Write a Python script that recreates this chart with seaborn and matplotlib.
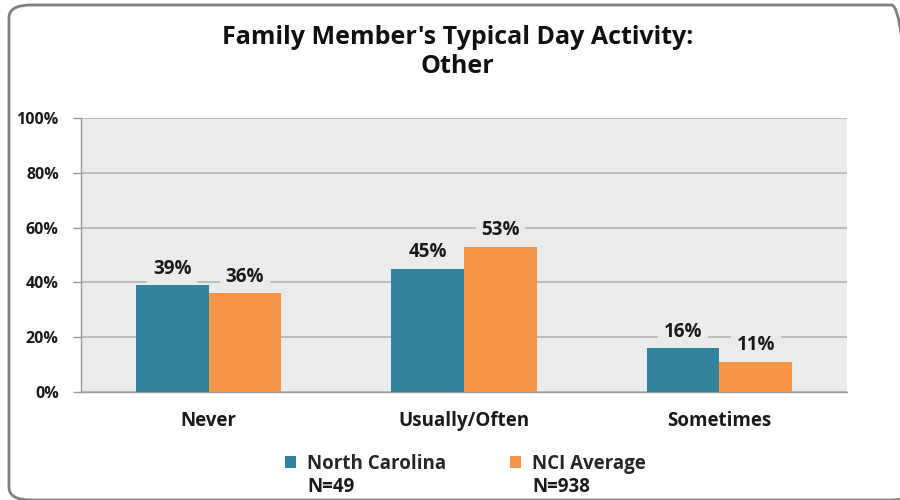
import matplotlib
matplotlib.use("Agg")
import matplotlib.pyplot as plt
from matplotlib.patches import FancyBboxPatch, Patch
from matplotlib.ticker import FixedLocator
import seaborn as sns
import pandas as pd

categories = ["Never", "Usually/Often", "Sometimes"]
series = ["North Carolina", "NCI Average"]
n_labels = ["N=49", "N=938"]
nc_values = [39, 45, 16]
nci_values = [36, 53, 11]
y_ticks = [0, 20, 40, 60, 80, 100]
y_tick_labels = ["0%", "20%", "40%", "60%", "80%", "100%"]
title = "Family Member's Typical Day Activity:\nOther"

colors = ["#31849B", "#F79646"]
plot_bg = "#EBEBEB"
grid_c = "#B4B4B4"

df = pd.DataFrame({
    "Category": categories * 2,
    "Series": [series[0]] * 3 + [series[1]] * 3,
    "Value": nc_values + nci_values,
})

sns.set_theme(style="white")
plt.rcParams["font.family"] = ["Open Sans", "DejaVu Sans"]

fig = plt.figure(figsize=(9, 5), dpi=100)
ax = fig.add_axes([81 / 900, 1 - 392 / 500, (847 - 81) / 900, (392 - 118) / 500])
ax.set_facecolor(plot_bg)

sns.barplot(data=df, x="Category", y="Value", hue="Series", order=categories,
            hue_order=series, palette=colors, width=0.57, ax=ax, legend=False,
            saturation=1, edgecolor="none", zorder=3)

ax.set_ylim(0, 100)
ax.set_xlim(-0.5, 2.5)
ax.set_yticks(y_ticks)
ax.set_yticklabels(y_tick_labels, fontsize=11.5, fontweight="bold", color="#1a1a1a")
ax.yaxis.grid(True, color=grid_c, linewidth=1.2, zorder=0)
ax.set_axisbelow(True)
ax.set_xlabel("")
ax.set_ylabel("")
ax.set_xticks(range(3))
ax.set_xticklabels(categories, fontsize=13.5, fontweight="bold", color="#1a1a1a")
ax.tick_params(axis="x", which="major", length=0, pad=14)
ax.xaxis.set_minor_locator(FixedLocator([-0.5, 0.5, 1.5, 2.5]))
ax.tick_params(axis="x", which="minor", length=6, color="#9a9a9a", width=1, direction="out")
ax.tick_params(axis="y", which="major", length=6, color="#9a9a9a", width=1, direction="out", pad=10, left=True)

for s in ["top", "right"]:
    ax.spines[s].set_visible(False)
ax.spines["left"].set_color("#9a9a9a")
ax.spines["bottom"].set_color("#9a9a9a")
ax.spines["left"].set_linewidth(1)
ax.spines["bottom"].set_linewidth(1)

for container in ax.containers:
    for bar in container:
        h = bar.get_height()
        ax.text(bar.get_x() + bar.get_width() / 2, h + 6, f"{h:.0f}%",
                ha="center", va="center", fontsize=13.5, fontweight="bold",
                color="#1a1a1a", zorder=5,
                bbox=dict(boxstyle="square,pad=0.3", facecolor=plot_bg, edgecolor="none"))

fig.text(0.508, 1 - 52 / 500, title, ha="center", va="center", fontsize=18,
         fontweight="bold", color="#111111", linespacing=1.25)

for i, (c, lab, nl, x0) in enumerate(zip(colors, series, n_labels, [285, 510])):
    h = Patch(facecolor=c, edgecolor="none")
    leg = fig.legend([h], [lab], loc="center left",
                     bbox_to_anchor=(x0 / 900, 1 - 464 / 500),
                     frameon=False, prop={"weight": "bold", "size": 13.5},
                     handlelength=0.6, handleheight=0.6, handletextpad=0.55,
                     borderpad=0, borderaxespad=0)
    fig.text((x0 + 22) / 900, 1 - 487 / 500, nl, ha="left", va="center",
             fontsize=13.5, fontweight="bold", color="#1a1a1a")

border = FancyBboxPatch((9 / 900, 0 / 500), 905 / 900, 495 / 500,
                        boxstyle="round,pad=0,rounding_size=0.025",
                        transform=fig.transFigure, facecolor="none",
                        edgecolor="#808080", linewidth=2, clip_on=False)
fig.patches.append(border)

fig.savefig("out.png", dpi=100)
